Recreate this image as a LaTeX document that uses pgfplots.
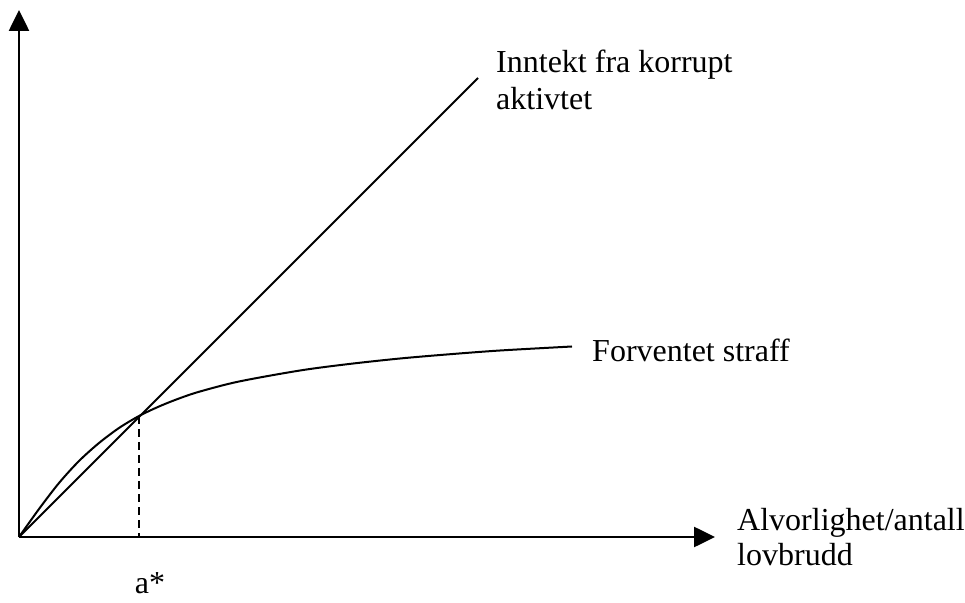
\documentclass[border=0pt]{standalone}
\usepackage{fontspec}
\setmainfont{Liberation Serif}
\usepackage{pgfplots}
\pgfplotsset{compat=1.18}
\usetikzlibrary{arrows.meta}
\tikzset{lbl/.style={font=\fontsize{32}{37}\selectfont, inner sep=0pt}}
\begin{document}
\begin{tikzpicture}
\begin{axis}[
  x=1pt, y=1pt,
  xmin=0, xmax=965, ymin=0, ymax=602,
  hide axis, clip=false,
]
% invisible frame to fix bounding box
\addplot[draw=none] coordinates {(0,0) (965,602)};
% axes
\addplot[black, line width=2.6pt, -{Triangle[width=20pt,length=21pt]}] coordinates {(19,65) (19,592)};
\addplot[black, line width=2.6pt, -{Triangle[width=20pt,length=21pt]}] coordinates {(19,65) (715,65)};
% income line
\addplot[black, line width=2pt] coordinates {(19,65) (478,524)};
% expected punishment curve
\addplot[black, line width=2pt, smooth] coordinates {
(19,65) (39,93) (59,119) (79,141) (99,159) (119,174) (139,186)
(159,195.5) (179,203.5) (200,210.5) (239,220.5) (300,231.5) (349,238)
(400,243.5) (449,247.7) (500,251.5) (572,255.5)
};
% dashed drop line
\addplot[black, line width=2pt, dash pattern=on 8pt off 5pt] coordinates {(139,186) (139,65)};
% labels
\node[lbl, anchor=base west] at (axis cs:496,529) {Inntekt fra korrupt};
\node[lbl, anchor=base west] at (axis cs:496,492) {aktivtet};
\node[lbl, anchor=base west] at (axis cs:592,240) {Forventet straff};
\node[lbl, anchor=base west] at (axis cs:737,72) {Alvorlighet/antall};
\node[lbl, anchor=base west] at (axis cs:737,37) {lovbrudd};
\node[lbl, anchor=base] at (axis cs:150,9) {a*};
\end{axis}
\end{tikzpicture}
\end{document}
